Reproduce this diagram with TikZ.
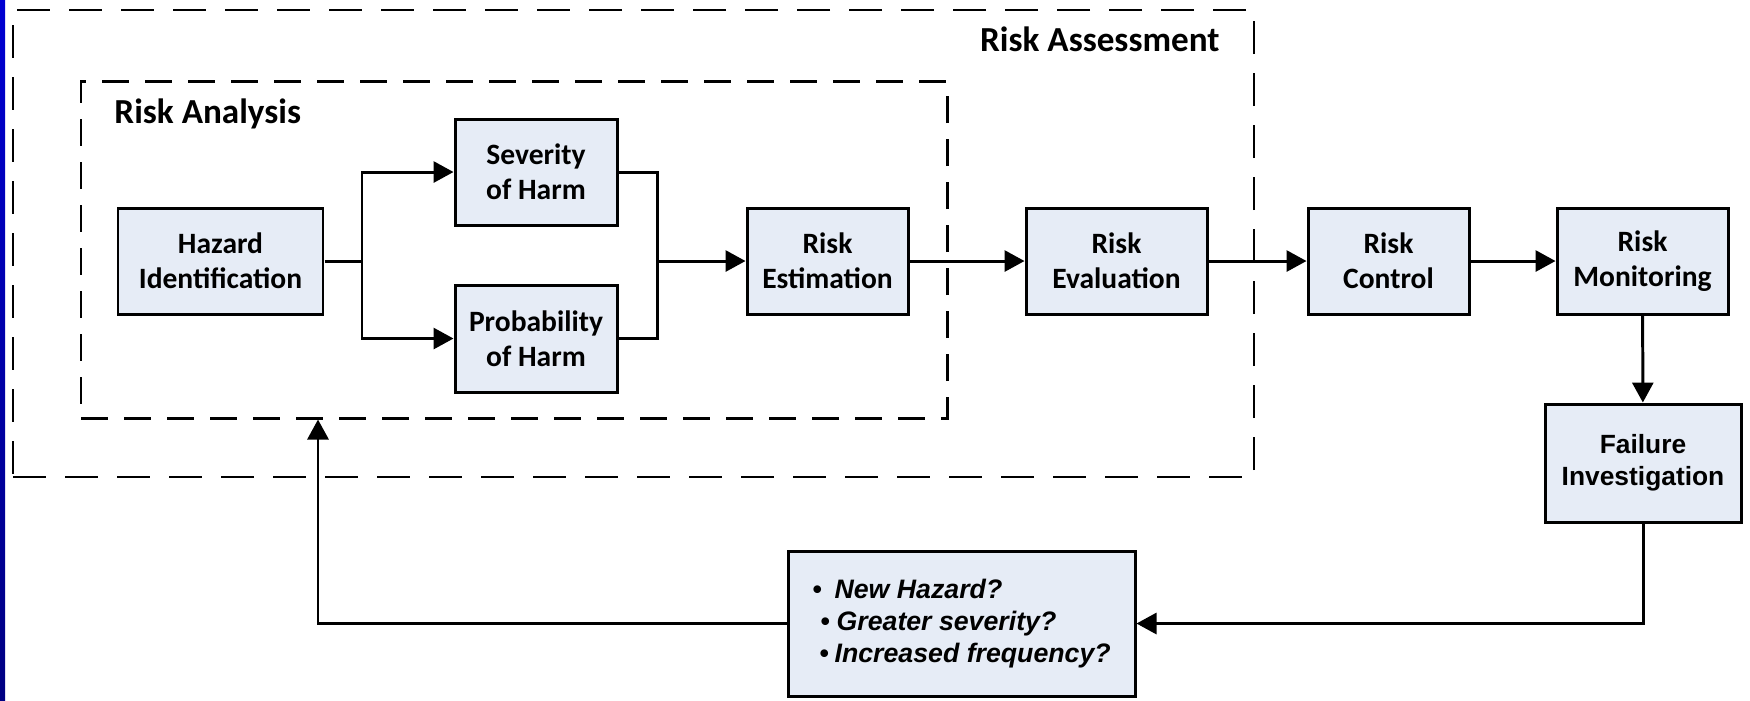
\documentclass[tikz,border=0pt]{standalone}
\usepackage{fontspec}
\setmainfont{Carlito}
\newfontfamily\arialfont{Liberation Sans}
\usetikzlibrary{arrows.meta, positioning}
\usepackage{xcolor}
\definecolor{stagefill}{RGB}{230,236,246}
\definecolor{bartop}{RGB}{0,0,210}
\definecolor{barbottom}{RGB}{0,0,130}
\def\rowy{-2.61}

\begin{document}
\begin{tikzpicture}[line width=0.85pt, >={Triangle[length=0.2cm,width=0.21cm]}, font=\bfseries\fontsize{8.4}{10}\selectfont]
    \tikzstyle{stage}=[rectangle, draw=black, fill=stagefill, line width=0.85pt, minimum height=1.06cm, inner sep=0pt, align=center]
    \tikzstyle{flow}=[->, line width=0.85pt]
    \tikzstyle{outer frame}=[draw=black, line width=0.55pt, dash pattern=on 0.33cm off 0.19cm, inner sep=0pt]
    \tikzstyle{inner frame}=[draw=black, line width=0.85pt, dash pattern=on 0.27cm off 0.16cm, inner sep=0pt]
    \tikzstyle{frame title}=[font=\bfseries\fontsize{10}{12}\selectfont, inner sep=0pt]

    \useasboundingbox (0,0) rectangle (17.5,-7);
    \shade[top color=bartop, bottom color=barbottom] (0,0) rectangle (0.05,-7);

    % Draw the dashed frames
    \node[outer frame, minimum width=12.41cm, minimum height=4.67cm] (assess) at (6.335,-2.435) {};
    \node[inner frame, minimum width=8.66cm, minimum height=3.37cm] (ana) at (5.14,-2.495) {};
    \node[frame title, anchor=base east] (assess-t) at (12.21,-0.51) {Risk Assessment};
    \node[frame title, anchor=base west] (ana-t) at (1.13,-1.23) {Risk Analysis};

    % Draw the main row of stages
    \foreach \name / \x / \w / \txt in {haz/2.205/2.05/{Hazard\\Identification},
                                       est/8.275/1.61/{Risk\\Estimation},
                                       eval/11.165/1.81/{Risk\\Evaluation},
                                       ctrl/13.885/1.61/{Risk\\Control},
                                       mon/16.425/1.71/{Risk\\Monitoring}}
        \node[stage, minimum width=\w cm] (\name) at (\x,\rowy) {\txt};

    % Severity and probability
    \node[stage, minimum width=1.62cm] (sev) at (5.36,-1.72) {Severity\\of Harm};
    \node[stage, minimum width=1.62cm, minimum height=1.07cm] (prob) at (5.36,-3.385) {Probability\\of Harm};

    % Failure investigation and the questions
    \node[stage, minimum width=1.96cm, minimum height=1.18cm,
          font=\arialfont\bfseries\fontsize{7.5}{9}\selectfont] (fail) at (16.43,-4.63) {Failure\\Investigation};
    \node[stage, minimum width=3.47cm, minimum height=1.45cm, align=left,
          font=\arialfont\bfseries\itshape\fontsize{7.6}{9}\selectfont] (quest) at (9.615,-6.235)
          {\textbullet\hspace{0.13cm}New Hazard?\\
           \hspace{0.08cm}\textbullet\hspace{0.07cm}Greater severity?\\
           \hspace{0.07cm}\textbullet\hspace{0.06cm}Increased frequency?};

    % Connect the analysis branches
    \coordinate (j1) at (3.62,\rowy);
    \coordinate (j2) at (6.57,\rowy);
    \draw (haz) -- (j1);
    \draw[flow] (j1) |- (sev);
    \draw[flow] (j1) |- (prob);
    \draw (sev) -| (j2);
    \draw (prob) -| (j2);
    \draw[flow] (j2) -- (est);

    % Connect the row
    \foreach \source / \dest in {est/eval, eval/ctrl, ctrl/mon}
        \draw[flow] (\source) -- (\dest);
    \draw[flow] (mon) -- (fail);

    % Feedback loop
    \coordinate (fb) at (3.18,-6.235);
    \draw[flow] (fail) |- (quest);
    \draw[flow] (quest) -- (fb) -- (fb |- ana.south);
\end{tikzpicture}
\end{document}
